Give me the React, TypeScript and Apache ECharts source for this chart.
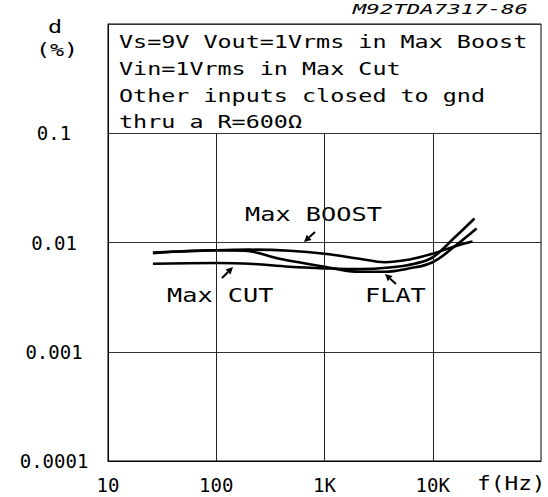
import React, { useEffect, useRef } from "react";
import * as echarts from "echarts";

// Frequencies (Hz) and distortion (%)
const freqBoost = [26, 101, 203, 476, 1000, 2110, 3590, 6110, 9960, 15900, 23300];
const thdBoost = [0.0081, 0.0085, 0.0086, 0.0084, 0.0079, 0.0071, 0.0066, 0.007, 0.0079, 0.0092, 0.0102];

const freqCut = [26, 101, 203, 476, 1000, 2110, 3990, 6790, 9960, 15900, 24300];
const thdCut = [0.0064, 0.0065, 0.0064, 0.006, 0.0058, 0.0057, 0.0059, 0.0064, 0.0073, 0.0111, 0.0166];

const freqFlat = [26, 101, 183, 385, 1000, 2110, 3590, 6110, 9960, 15900, 25400];
const thdFlat = [0.008, 0.0085, 0.0084, 0.0071, 0.006, 0.0054, 0.0054, 0.0058, 0.0066, 0.0092, 0.0134];

const xTickLabels = ["10", "100", "1K", "10K", ""];
const yTickLabels = ["0.0001", "0.001", "0.01", "0.1", ""];
const xGridValues = [100, 1000, 10000];

const boxLines = [
  "Vs=9V Vout=1Vrms in Max Boost",
  "Vin=1Vrms in Max Cut",
  "Other inputs closed to gnd",
  "thru a R=600Ω",
];

const FONT = "DejaVu Sans Mono";

function pairs(xs: number[], ys: number[]) {
  return xs.map((x, i) => [x, ys[i]]);
}

function arrow(tail: number[], tip: number[]) {
  const dx = tip[0] - tail[0];
  const dy = tip[1] - tail[1];
  const len = Math.sqrt(dx * dx + dy * dy);
  const ux = dx / len;
  const uy = dy / len;
  const hl = 7;
  const hw = 3.5;
  const bx = tip[0] - ux * hl;
  const by = tip[1] - uy * hl;
  return [
    {
      type: "line",
      shape: { x1: tail[0], y1: tail[1], x2: bx, y2: by },
      style: { stroke: "#000", lineWidth: 2 },
    },
    {
      type: "polygon",
      shape: {
        points: [
          [tip[0], tip[1]],
          [bx - uy * hw, by + ux * hw],
          [bx + uy * hw, by - ux * hw],
        ],
      },
      style: { fill: "#000" },
    },
  ];
}

function txt(text: string, x: number, y: number, size: number, sx: number, align = "left", italic = false) {
  return {
    type: "text",
    x,
    y,
    scaleX: sx,
    style: {
      text,
      fontSize: size,
      fontFamily: FONT,
      fontStyle: italic ? "italic" : "normal",
      fill: "#000",
      align,
      verticalAlign: "middle",
    },
  };
}

export default function App() {
  const ref = useRef<HTMLDivElement>(null);

  useEffect(() => {
    document.body.style.margin = "0";
    if (!ref.current) return;
    const chart = echarts.init(ref.current, null, { renderer: "svg" });

    const lineStyle = { color: "#000", width: 2.6 };

    const option: any = {
      animation: false,
      backgroundColor: "#fff",
      grid: {
        left: 108,
        right: 7,
        top: 24,
        bottom: 36,
        show: true,
        borderColor: "#000",
        borderWidth: 1,
        backgroundColor: "transparent",
      },
      xAxis: {
        type: "log",
        logBase: 10,
        min: 10,
        max: 100000,
        axisLine: { show: true, lineStyle: { color: "#000" } },
        axisTick: { show: false },
        splitLine: { show: false },
        axisLabel: {
          margin: 14,
          fontFamily: FONT,
          fontSize: 19,
          color: "#000",
          formatter: (v: number) => xTickLabels[Math.round(Math.log10(v)) - 1] ?? "",
        },
      },
      yAxis: {
        type: "log",
        logBase: 10,
        min: 0.0001,
        max: 1,
        axisLine: { show: true, lineStyle: { color: "#000" } },
        axisTick: { show: false },
        splitLine: { show: true, lineStyle: { color: "#333", width: 1 } },
        axisLabel: {
          margin: 54,
          align: "center",
          fontFamily: FONT,
          fontSize: 19,
          color: "#000",
          formatter: (v: number) => yTickLabels[Math.round(Math.log10(v)) + 4] ?? "",
        },
      },
      series: [
        {
          name: "Max BOOST",
          type: "line",
          smooth: 0.4,
          showSymbol: false,
          lineStyle,
          data: pairs(freqBoost, thdBoost),
          markLine: {
            silent: true,
            symbol: "none",
            label: { show: false },
            lineStyle: { color: "#222", width: 1, type: "solid" },
            data: xGridValues.map((v) => [{ coord: [v, 0.0001] }, { coord: [v, 0.1] }]),
          },
          z: 3,
        },
        {
          name: "Max CUT",
          type: "line",
          smooth: 0.4,
          showSymbol: false,
          lineStyle,
          data: pairs(freqCut, thdCut),
          z: 3,
        },
        {
          name: "FLAT",
          type: "line",
          smooth: 0.4,
          showSymbol: false,
          lineStyle,
          data: pairs(freqFlat, thdFlat),
          z: 3,
        },
      ],
      graphic: [
        ...boxLines.map((t, i) => txt(t, 119, [42, 69, 96, 122][i], 18, 1.3)),
        txt("d", 55, 27, 18, 1.3, "center"),
        txt("(%)", 57, 50, 18, 1.3, "center"),
        txt("M92TDA7317-86", 528, 9, 14, 1.6, "right", true),
        txt("f(Hz)", 477, 484, 19, 1.2),
        txt("Max BOOST", 245, 214, 19, 1.33),
        txt("Max CUT", 167, 295, 19, 1.33),
        txt("FLAT", 365, 295, 19, 1.33),
        ...arrow([315, 232], [304, 242]),
        ...arrow([222, 278], [233, 267]),
        ...arrow([396, 284], [385, 274]),
      ],
    };

    chart.setOption(option);
    return () => chart.dispose();
  }, []);

  return <div ref={ref} style={{ width: 548, height: 497 }} />;
}
